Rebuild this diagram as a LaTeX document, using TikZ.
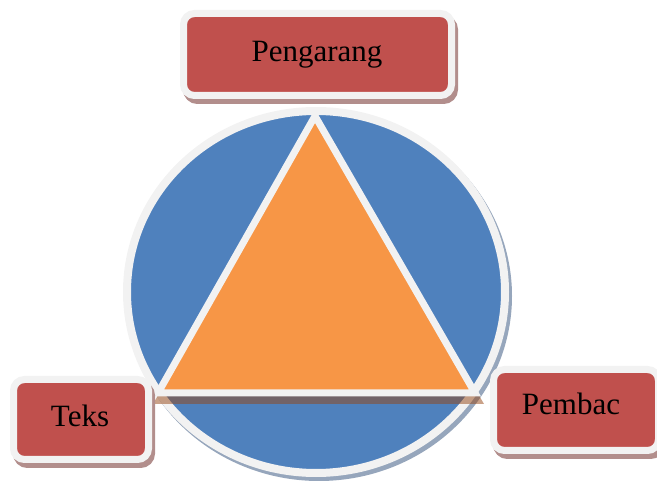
\documentclass[tikz,border=0pt]{standalone}
\usepackage{fontspec}
\setmainfont{Liberation Serif}
\usetikzlibrary{shapes.geometric,shadows}
\definecolor{boxred}{RGB}{192,80,77}
\definecolor{circblue}{RGB}{79,129,189}
\definecolor{triorange}{RGB}{247,150,70}
\definecolor{rim}{RGB}{242,242,242}
\definecolor{boxshade}{RGB}{178,142,140}
\definecolor{circshade}{RGB}{150,166,188}
\definecolor{trishade}{RGB}{150,70,20}

\begin{document}
\begin{tikzpicture}[x=1pt,y=-1pt,
  box/.style={rectangle, rounded corners=11pt, draw=rim, line width=7pt, fill=boxred, inner sep=0pt,
    drop shadow={shadow xshift=3pt, shadow yshift=-5pt, opacity=1, fill=boxshade, draw=boxshade}},
  lbl/.style={anchor=base, inner sep=0pt, font=\fontsize{31}{37}\selectfont}]
  \useasboundingbox (0,0) rectangle (657,481);
	% circle with triangle inside
	\node[ellipse, minimum width=378pt, minimum height=362pt, draw=rim, line width=8pt, fill=circblue,
	  drop shadow={shadow xshift=3pt, shadow yshift=-4pt, opacity=1, fill=circshade, draw=circshade}] (C) at (316,292) {};
	\coordinate (T1) at (315,116);
	\coordinate (T2) at (158,393);
	\coordinate (T3) at (475,393);
	% shadow of the triangle
	\coordinate (S1) at (317,116);
	\coordinate (S2) at (153,404);
	\coordinate (S3) at (484,404);
	\fill[trishade, opacity=0.5] (S1) -- (S2) -- (S3) -- cycle;
	\draw[line width=7pt, draw=rim, fill=triorange] (T1) -- (T2) -- (T3) -- cycle;
	% boxes
	\node[box, minimum width=268pt, minimum height=82pt] (B1) at (317.5,54.5) {};
	\node[box, minimum width=135pt, minimum height=80pt] (B2) at (81,419.5) {};
	\node[box, minimum width=165pt, minimum height=81pt] (B3) at (576,410) {};
	\node[lbl] (L1) at (317,62) {Pengarang};
	\node[lbl] (L2) at (80,427) {Teks};
	\node[lbl] (L3) at (571,415) {Pembac};
\end{tikzpicture}
\end{document}
